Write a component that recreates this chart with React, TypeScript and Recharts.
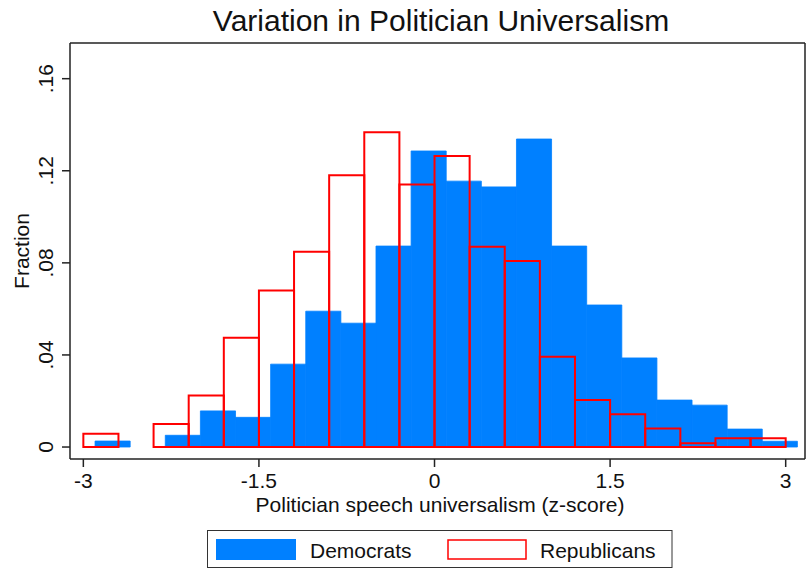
import React from 'react';
import {
  ComposedChart,
  XAxis,
  YAxis,
  Line,
  ReferenceArea,
  ReferenceLine,
} from 'recharts';

// Histogram bins (fraction per 0.3-wide bin)
const demBinStarts = [-2.9, -2.6, -2.3, -2.0, -1.7, -1.4, -1.1, -0.8, -0.5, -0.2, 0.1, 0.4, 0.7, 1.0, 1.3, 1.6, 1.9, 2.2, 2.5, 2.8];
const demValues = [0.0026, 0, 0.0051, 0.0157, 0.0129, 0.036, 0.059, 0.0538, 0.0873, 0.1286, 0.1155, 0.113, 0.1338, 0.0873, 0.0617, 0.0387, 0.0204, 0.0182, 0.0078, 0.0025];

const repBinStarts = [-3.0, -2.7, -2.4, -2.1, -1.8, -1.5, -1.2, -0.9, -0.6, -0.3, 0, 0.3, 0.6, 0.9, 1.2, 1.5, 1.8, 2.1, 2.4, 2.7];
const repValues = [0.0058, 0, 0.01, 0.0224, 0.0475, 0.068, 0.0848, 0.118, 0.1367, 0.114, 0.1264, 0.087, 0.0808, 0.0392, 0.0204, 0.0142, 0.008, 0.0016, 0.0038, 0.0038];

const BIN_WIDTH = 0.3;

const xTicks = [-3, -1.5, 0, 1.5, 3];
const yTicks = [0, 0.04, 0.08, 0.12, 0.16];

const X_MIN = -3.114;
const X_MAX = 3.165;
const Y_MIN = -0.0052;
const Y_MAX = 0.1755;

const FONT = '"Liberation Sans", Arial, Helvetica, sans-serif';
const BLUE = '#0080ff';
const RED = '#ff0000';
const AXIS = '#222';

const demBars = demBinStarts.map((x0, i) => ({ x0, x1: x0 + BIN_WIDTH, v: demValues[i] }));
const repBars = repBinStarts.map((x0, i) => ({ x0, x1: x0 + BIN_WIDTH, v: repValues[i] }));
const midpoints = demBars.map((b) => ({ x: (b.x0 + b.x1) / 2, v: b.v }));

const fmtY = (v: number) => (v === 0 ? '0' : v.toFixed(2).replace(/^0/, ''));

const YTick = (props: any) => {
  const { x, y, payload } = props;
  return (
    <text
      x={x}
      y={y}
      transform={`rotate(-90 ${x} ${y})`}
      textAnchor="middle"
      fontSize={21}
      fontFamily={FONT}
      fill="#111"
    >
      {fmtY(payload.value)}
    </text>
  );
};

const XTick = (props: any) => {
  const { x, y, payload } = props;
  return (
    <text x={x} y={y + 21} textAnchor="middle" fontSize={21} fontFamily={FONT} fill="#111">
      {payload.value}
    </text>
  );
};

export default function App() {
  return (
    <div style={{ position: 'absolute', left: 0, top: 0, width: 806, height: 572, background: '#fff' }}>
      <ComposedChart
        width={806}
        height={572}
        data={midpoints}
        margin={{ top: 43, right: 1, bottom: 53, left: 0 }}
      >
        <XAxis
          dataKey="x"
          type="number"
          domain={[X_MIN, X_MAX]}
          allowDataOverflow
          ticks={xTicks}
          interval={0}
          height={60}
          tickSize={8}
          tickMargin={0}
          tick={<XTick />}
          axisLine={{ stroke: AXIS, strokeWidth: 1.5 }}
          tickLine={{ stroke: AXIS, strokeWidth: 1.5 }}
        />
        <YAxis
          type="number"
          domain={[Y_MIN, Y_MAX]}
          allowDataOverflow
          ticks={yTicks}
          interval={0}
          width={70}
          tickSize={8}
          tickMargin={9}
          tick={<YTick />}
          axisLine={{ stroke: AXIS, strokeWidth: 1.5 }}
          tickLine={{ stroke: AXIS, strokeWidth: 1.5 }}
        />
        {demBars
          .filter((b) => b.v > 0)
          .map((b, i) => (
            <ReferenceArea
              key={`d${i}`}
              x1={b.x0}
              x2={b.x1}
              y1={0}
              y2={b.v}
              fill={BLUE}
              fillOpacity={1}
              stroke={BLUE}
              strokeWidth={0.8}
              ifOverflow="extendDomain"
            />
          ))}
        {repBars
          .filter((b) => b.v > 0)
          .map((b, i) => (
            <ReferenceArea
              key={`r${i}`}
              x1={b.x0}
              x2={b.x1}
              y1={0}
              y2={b.v}
              fill="none"
              stroke={RED}
              strokeWidth={2}
              ifOverflow="extendDomain"
            />
          ))}
        <ReferenceLine y={Y_MAX} stroke={AXIS} strokeWidth={1.5} />
        <ReferenceLine x={X_MAX} stroke={AXIS} strokeWidth={1.5} />
        <Line
          dataKey="v"
          stroke="none"
          dot={false}
          activeDot={false}
          isAnimationActive={false}
          legendType="none"
        />
      </ComposedChart>
      <svg
        width={806}
        height={572}
        style={{ position: 'absolute', left: 0, top: 0, pointerEvents: 'none' }}
        fontFamily={FONT}
      >
        <text x={441} y={31} textAnchor="middle" fontSize={30} fill="#111">
          Variation in Politician Universalism
        </text>
        <text x={440} y={512} textAnchor="middle" fontSize={21} fill="#111">
          Politician speech universalism (z-score)
        </text>
        <text
          x={29}
          y={251}
          transform="rotate(-90 29 251)"
          textAnchor="middle"
          fontSize={21}
          fill="#111"
        >
          Fraction
        </text>
        <rect x={207.5} y={530.5} width={464.5} height={37} fill="#fff" stroke="#333" strokeWidth={1} />
        <rect x={216} y={539} width={80} height={21} fill={BLUE} />
        <text x={310} y={558} fontSize={21} fill="#111">
          Democrats
        </text>
        <rect x={448} y={540} width={78} height={19} fill="none" stroke={RED} strokeWidth={1.5} />
        <text x={540} y={558} fontSize={21} fill="#111">
          Republicans
        </text>
      </svg>
    </div>
  );
}
